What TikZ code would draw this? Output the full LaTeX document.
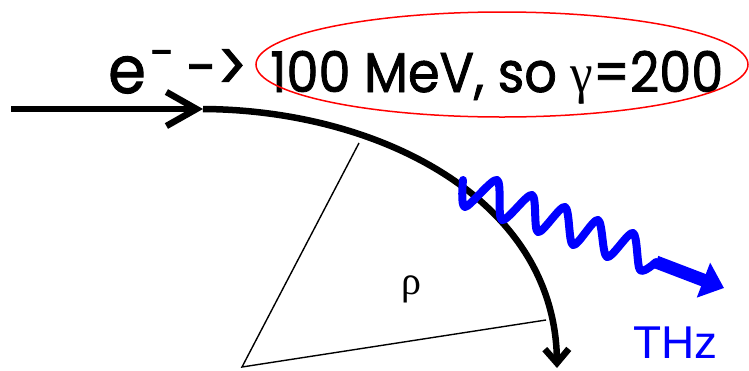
\documentclass[tikz,border=0pt]{standalone}
\usepackage{fontspec}
\setmainfont[FakeBold=1.5,AutoFakeBold=1.5]{Poppins}
\newfontfamily\symf{Liberation Serif}
\newfontfamily\arialf{Liberation Sans}
\usetikzlibrary{arrows.meta,shapes.geometric}
\definecolor{thzblue}{RGB}{0,0,255}
\definecolor{ellred}{RGB}{255,0,0}
\tikzset{
  beam/.style={line width=6.5pt},
  radline/.style={line width=1.4pt},
  wavy/.style={thzblue, line width=8pt, line cap=round, line join=round},
  shaft/.style={thzblue, line width=13pt},
  txt/.style={inner sep=0pt, anchor=base west},
}
\begin{document}
\begin{tikzpicture}[x=1pt,y=-1pt]
\useasboundingbox (0,0) rectangle (749,370);
% coordinates
\coordinate (in) at (11,109);
\coordinate (bend) at (203,109);
\coordinate (out) at (557,368);
\coordinate (c) at (242,367);
\coordinate (r1) at (359,143);
\coordinate (r2) at (546,320);
\coordinate (w0) at (463,180);
\coordinate (w1) at (656,262);
\coordinate (w2) at (724,288);
% texts
\node[txt, font=\fontsize{66}{70}\selectfont] (e) at (108,93) {\scalebox{0.92}[1]{e}};
\node[txt, font=\fontsize{44}{50}\selectfont] (minus) at (150,68) {-};
\node[txt, font=\fontsize{56}{60}\selectfont] (arr) at (186,87) {-\raisebox{-4pt}{\fontsize{70}{74}\selectfont\scalebox{0.8}[1]{>}}};
\node[txt, font=\fontsize{56}{60}\selectfont] (energy) at (270,92) {\scalebox{0.91}[1]{100 MeV, so {\symf γ}=200}};
\node[draw=ellred, line width=1.5pt, ellipse, minimum width=492pt, minimum height=105pt, inner sep=0pt] (ell) at (502,64.5) {};
\node[inner sep=0pt, font=\symf\fontsize{40}{44}\selectfont] (rho) at (411,289) {ρ};
\node[txt, text=thzblue, font=\arialf\fontsize{46}{50}\selectfont] (thz) at (633,358) {THz};
% electron beam
\draw[beam, -{Straight Barb[length=30pt,width=34pt]}] (in) -- (bend);
\draw[beam, -{Straight Barb[length=14pt,width=24pt]}] (bend) .. controls (380,110) and (555,200) .. (out);
% radius lines
\draw[radline] (r1) -- (c) -- (r2);
% radiation
\draw[wavy] plot[smooth, tension=0.5] coordinates {(w0) (465,207) (497,180) (502,220) (532,195) (538,232) (565,207) (573,245) (598,220) (607,257) (633,233) (640,270) (w1)};
\draw[shaft, -{Triangle[length=22pt,width=36pt]}] (w1) -- (w2);
\end{tikzpicture}
\end{document}
